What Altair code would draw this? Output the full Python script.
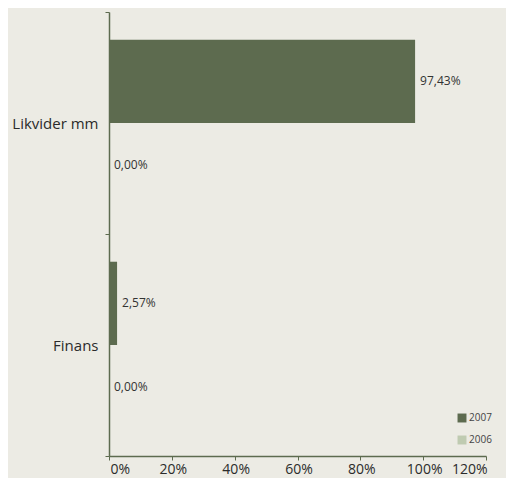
import altair as alt
import pandas as pd

categories = ["Likvider mm", "Likvider mm", "Finans", "Finans"]
years = ["2007", "2006", "2007", "2006"]
values = [0.9743, 0.0, 0.0257, 0.0]

df = pd.DataFrame({"cat": categories, "year": years, "value": values})

cat_order = ["Likvider mm", "Finans"]
year_order = ["2007", "2006"]
colors = ["#5D6B4F", "#BFCBB1"]
FONT = "Open Sans"

base = alt.Chart(df).encode(
    y=alt.Y("cat:N", sort=cat_order, title=None,
            scale=alt.Scale(paddingInner=0, paddingOuter=0),
            axis=alt.Axis(tickBand="extent", tickSize=4, labelPadding=7,
                          labelFontSize=15, labelFont=FONT, labelColor="#2b2b2b",
                          domainColor="#5D6B4F", tickColor="#5D6B4F", domainWidth=1.5)),
    yOffset=alt.YOffset("year:N", sort=year_order,
                        scale=alt.Scale(paddingInner=0, paddingOuter=0.333)),
    x=alt.X("value:Q", title=None,
            scale=alt.Scale(domain=[0, 1.2], nice=False),
            axis=alt.Axis(values=[0, 0.2, 0.4, 0.6, 0.8, 1.0, 1.2], format=".0%",
                          tickSize=4, labelPadding=2, labelFontSize=14, labelFont=FONT,
                          labelColor="#2b2b2b", labelOffset=1, grid=False,
                          domainColor="#5D6B4F", tickColor="#5D6B4F", domainWidth=1.5)),
)

bars = base.mark_bar().encode(
    color=alt.Color("year:N", sort=year_order,
                    scale=alt.Scale(domain=year_order, range=colors),
                    legend=alt.Legend(title=None, orient="none", legendX=348, legendY=401,
                                      symbolType="square", symbolSize=80, symbolStrokeWidth=0,
                                      labelFont=FONT, labelFontSize=10, labelColor="#444",
                                      labelOffset=2, rowPadding=12, padding=0))
)

labels = base.mark_text(align="left", dx=5, fontSize=12, font=FONT, color="#333").transform_calculate(
    lbl="replace(format(datum.value, '.2%'), '.', ',')"
).encode(text="lbl:N")

chart = (bars + labels).properties(
    width=377, height=444,
    background="#ECEBE4",
    padding={"left": 101, "top": 4, "right": 20, "bottom": 22},
    autosize=alt.AutoSizeParams(type="none"),
).configure_view(stroke=None)

chart.save("out.html", embed_options={"renderer": "svg", "actions": False})
